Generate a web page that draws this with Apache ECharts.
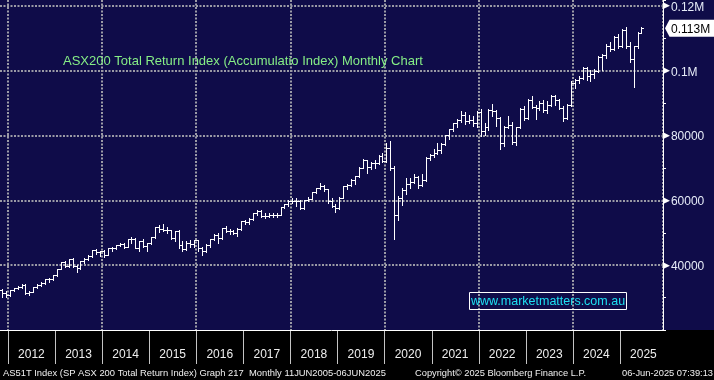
<!DOCTYPE html>
<html>
<head>
<meta charset="utf-8">
<script src="https://cdn.jsdelivr.net/npm/echarts/dist/echarts.min.js"></script>
<style>
html,body{margin:0;padding:0;background:#000;}
#c{width:714px;height:380px;}
</style>
</head>
<body>
<div id="c"></div>
<script>
// ---- axis / labels ----
const startYear = 2011, startMonth = 11, monthCount = 169; // Nov 2011 .. Nov 2025 on the axis
const yMin = 20000, yMax = 121850;
const yTickValues = [40000, 60000, 80000, 100000, 120000];
const yTickLabels = ['40000', '60000', '80000', '0.1M', '0.12M'];
const titleText = 'ASX200 Total Return Index (Accumulatio Index) Monthly Chart';
const watermarkText = 'www.marketmatters.com.au';
const footerLeft = 'AS51T Index (SP ASX 200 Total Return Index) Graph 217  Monthly 11JUN2005-06JUN2025';
const footerMid = 'Copyright\u00A9 2025 Bloomberg Finance L.P.';
const footerRight = '06-Jun-2025 07:39:13';

// ---- monthly OHLC, Nov 2011 .. Jun 2025 ----
const opens = [
 32300, 31450,
 30750, 32200, 32850, 33250, 33850, 31500, 31800, 33300, 33750, 34450, 35600, 35650,
 36900, 38900, 40850, 39900, 41850, 39850, 39000, 41150, 42000, 42850, 44700, 44000,
 44400, 43250, 45200, 45250, 46200, 46400, 45750, 47950, 48050, 45350, 47500, 45850,
 46850, 48550, 51700, 51300, 50850, 50900, 48250, 50550, 46350, 44850, 46950, 46450,
 47750, 45300, 44350, 46350, 48100, 49450, 48300, 51500, 50550, 50700, 49800, 51150,
 53500, 53250, 54300, 56000, 56750, 55050, 55250, 55450, 55600, 55500, 57900, 58750,
 59900, 59900, 59950, 57550, 60000, 60550, 62650, 63750, 64400, 63450, 59800, 58350,
 57800, 60850, 64300, 64650, 66400, 67400, 70050, 72350, 70400, 71550, 71500, 73800,
 72300, 76200, 70150, 55500, 60600, 63300, 65100, 65700, 67350, 64850, 66350, 73150,
 74150, 74650, 75650, 77300, 80200, 81900, 83800, 84800, 86500, 84600, 84700, 84000,
 87300, 81500, 82700, 87800, 87600, 85300, 77600, 82800, 83300, 77900, 82700, 88200,
 85300, 91100, 88700, 88400, 90000, 87800, 89300, 92100, 91100, 88500, 85300, 89500,
 96100, 97300, 97900, 100800, 98400, 99000, 100000, 104300, 104800, 107800, 106800, 110500,
 107800, 112500, 107500, 103700, 107600, 111800
];
const highs = [
 32800, 31900,
 32300, 33100, 33600, 34100, 34100, 32100, 33400, 34100, 34800, 35700, 35900, 37000,
 38950, 41000, 41300, 41900, 42300, 40000, 41200, 42300, 43200, 44800, 45000, 44500,
 44600, 45400, 45600, 46300, 46900, 46700, 48000, 48600, 48300, 47600, 48000, 47000,
 48600, 51800, 52500, 52700, 51700, 51000, 50600, 50900, 47500, 47600, 47800, 47900,
 47800, 45500, 46600, 48200, 49700, 49900, 51600, 52100, 51300, 51000, 51400, 53700,
 54000, 54500, 56100, 56900, 57000, 56000, 56100, 56000, 56000, 58000, 59000, 60000,
 60800, 60600, 60200, 60100, 61200, 62700, 63900, 65300, 64600, 63600, 60800, 59000,
 61000, 64400, 65200, 66700, 67600, 70200, 72800, 72500, 72000, 72600, 74000, 74500,
 77800, 78300, 70500, 61300, 63800, 66800, 66800, 68000, 67600, 68100, 73400, 74400,
 76000, 77600, 77600, 80300, 82000, 84000, 85000, 87600, 87300, 86400, 86100, 87600,
 88300, 84000, 88100, 89600, 87900, 85800, 82900, 86200, 84300, 82800, 88400, 89000,
 91300, 92200, 89400, 90600, 91000, 90600, 92400, 92600, 91300, 89100, 89700, 96800,
 97500, 98500, 101100, 101300, 100100, 100400, 104600, 105300, 108300, 109000, 110800, 111400,
 113000, 113400, 109000, 107700, 112000, 113600
];
const lows = [
 30300, 30300,
 30600, 32000, 32500, 32900, 31200, 30800, 31700, 33000, 33500, 34300, 34900, 35500,
 36800, 38700, 39400, 39300, 39500, 37800, 38700, 40600, 41600, 42600, 43400, 42900,
 42500, 43000, 44400, 45000, 45800, 45300, 45600, 47000, 45200, 44400, 45500, 44500,
 46400, 48400, 50300, 50600, 49800, 48000, 47600, 45300, 44400, 44700, 45700, 45600,
 44300, 43000, 44000, 45700, 47700, 46900, 48200, 50300, 49600, 49500, 48900, 50900,
 52700, 52800, 54000, 55600, 54800, 54500, 54800, 54900, 55000, 55400, 57500, 58300,
 59300, 58200, 57400, 57400, 59800, 60400, 62300, 63500, 62800, 59100, 57900, 56500,
 57200, 60700, 63500, 64500, 65200, 67100, 69900, 68500, 69800, 69900, 71300, 71900,
 72000, 69500, 48200, 53800, 58500, 62000, 63800, 65300, 63800, 64400, 66000, 72400,
 73400, 74300, 74500, 77100, 78800, 81500, 82800, 84300, 83700, 83900, 82900, 82800,
 80000, 80100, 81800, 86100, 82900, 76000, 76700, 82300, 77500, 77100, 82200, 84800,
 85100, 88400, 85200, 88000, 87200, 86900, 89000, 89500, 88100, 84500, 85000, 89200,
 94700, 96300, 97400, 97200, 96900, 97900, 99600, 100300, 103800, 106000, 106300, 106900,
 107300, 107000, 102700, 95100, 107100, 111700
];
const closes = [
 31450, 30750,
 32200, 32850, 33250, 33850, 31500, 31800, 33300, 33750, 34450, 35600, 35650, 36900,
 38900, 40850, 39900, 41850, 39850, 39000, 41150, 42000, 42850, 44700, 44000, 44400,
 43250, 45200, 45250, 46200, 46400, 45750, 47950, 48050, 45350, 47500, 45850, 46850,
 48550, 51700, 51300, 50850, 50900, 48250, 50550, 46350, 44850, 46950, 46450, 47750,
 45300, 44350, 46350, 48100, 49450, 48300, 51500, 50550, 50700, 49800, 51150, 53500,
 53250, 54300, 56000, 56750, 55050, 55250, 55450, 55600, 55500, 57900, 58750, 59900,
 59900, 59950, 57550, 60000, 60550, 62650, 63750, 64400, 63450, 59800, 58350, 57800,
 60850, 64300, 64650, 66400, 67400, 70050, 72350, 70400, 71550, 71500, 73800, 72300,
 76200, 70150, 55500, 60600, 63300, 65100, 65700, 67350, 64850, 66350, 73150, 74150,
 74650, 75650, 77300, 80200, 81900, 83800, 84800, 86500, 84600, 84700, 84000, 87300,
 81500, 82700, 87800, 87600, 85300, 77600, 82800, 83300, 77900, 82700, 88200, 85300,
 91100, 88700, 88400, 90000, 87800, 89300, 92100, 91100, 88500, 85300, 89500, 96100,
 97300, 97900, 100800, 98400, 99000, 100000, 104300, 104800, 107800, 106800, 110500, 107800,
 112500, 107500, 103700, 107600, 111800, 113100
];

// ---- build categories ----
const months = [];
for (let k = 0; k < monthCount; k++) {
  const m0 = startMonth - 1 + k;
  const y = startYear + Math.floor(m0 / 12);
  const m = (m0 % 12) + 1;
  months.push(y + '-' + (m < 10 ? '0' : '') + m);
}
const ohlc = closes.map((c, i) => [i, opens[i], c, lows[i], highs[i]]);

const NAVY = '#0f0c49';
const GRIDC = '#9b9ba6';
const FONT = '"Liberation Sans", Arial, sans-serif';

const chart = echarts.init(document.getElementById('c'), null, {renderer: 'canvas'});

const option = {
  animation: false,
  backgroundColor: '#000',
  grid: {left: 0, right: 51, top: 0, bottom: 50, containLabel: false},
  xAxis: {
    type: 'category',
    data: months,
    boundaryGap: true,
    axisLine: {show: true, onZero: false, lineStyle: {color: '#ffffff', width: 1}},
    axisTick: {show: false},
    axisLabel: {
      interval: (i, v) => v.slice(5) === '06',
      formatter: v => v.slice(0, 4),
      color: '#eeeeee',
      fontFamily: FONT,
      fontSize: 12,
      margin: 19,
      padding: [0, 0, 0, 4]
    },
    splitLine: {
      show: true,
      interval: (i, v) => v.slice(5) === '01' && parseInt(v.slice(0, 4), 10) % 2 === 0,
      lineStyle: {color: GRIDC, width: 2, type: [2, 1.5]}
    }
  },
  yAxis: [{
    type: 'value',
    position: 'right',
    min: yMin,
    max: yMax,
    interval: 20000,
    axisLine: {show: true, lineStyle: {color: '#ffffff', width: 1}},
    axisTick: {show: false},
    axisLabel: {
      margin: 0,
      formatter: v => {
        const k = yTickValues.indexOf(v);
        return k < 0 ? '' : '{a|\u25B6}{b|' + yTickLabels[k] + '}';
      },
      rich: {
        a: {fontSize: 9, color: '#ffffff', fontFamily: '"DejaVu Sans"', padding: [0, 1, 0, 0]},
        b: {fontSize: 12, color: '#e6ecf8', fontFamily: FONT, padding: [3, 0, 0, 0]}
      }
    },
    splitLine: {
      show: true,
      lineStyle: {
        color: ['rgba(0,0,0,0)', GRIDC, GRIDC, GRIDC, GRIDC, GRIDC, 'rgba(0,0,0,0)'],
        width: 2,
        type: [2, 1.5]
      }
    }
  }, {
    // small ticks every 10000 on the right axis
    type: 'value',
    position: 'right',
    min: yMin,
    max: yMax,
    interval: 10000,
    axisLine: {show: false},
    axisTick: {show: true, length: 3, lineStyle: {color: '#ffffff', width: 1}},
    axisLabel: {show: false},
    splitLine: {show: false}
  }],
  series: [{
    type: 'custom',
    clip: true,
    data: ohlc,
    encode: {x: 0, y: [1, 2, 3, 4]},
    renderItem: function (params, api) {
      const xi = api.value(0);
      const o = api.coord([xi, api.value(1)]);
      const c = api.coord([xi, api.value(2)]);
      const l = api.coord([xi, api.value(3)]);
      const h = api.coord([xi, api.value(4)]);
      const px = Math.round(o[0]) + 0.5;
      const oy = Math.round(o[1]) + 0.5;
      const cy = Math.round(c[1]) + 0.5;
      const st = {stroke: '#ffffff', lineWidth: 1};
      return {
        type: 'group',
        children: [
          {type: 'line', shape: {x1: px, y1: Math.round(h[1]), x2: px, y2: Math.round(l[1]) + 1}, style: st},
          {type: 'line', shape: {x1: px - 2.5, y1: oy, x2: px, y2: oy}, style: st},
          {type: 'line', shape: {x1: px, y1: cy, x2: px + 2.5, y2: cy}, style: st}
        ]
      };
    }
  }]
};
chart.setOption(option);

// ---- decorations placed through the chart's own scales ----
const x0 = chart.convertToPixel({xAxisIndex: 0}, months[0]);
const x1 = chart.convertToPixel({xAxisIndex: 0}, months[1]);
const bw = x1 - x0;
const elements = [
  {type: 'rect', z: -100, silent: true, shape: {x: 0, y: 0, width: 714, height: 330}, style: {fill: NAVY}}
];
months.forEach(m => {
  if (m.slice(5) === '01') {
    const bx = Math.round(chart.convertToPixel({xAxisIndex: 0}, m) - bw / 2) + 0.5;
    elements.push({type: 'line', silent: true, z: 5,
      shape: {x1: bx, y1: 331, x2: bx, y2: 364}, style: {stroke: '#c4c4c4', lineWidth: 1}});
  }
});
const lastClose = closes[closes.length - 1];
const ly = chart.convertToPixel({yAxisIndex: 0}, lastClose);
elements.push({type: 'polygon', z: 10, silent: true,
  shape: {points: [[665, ly], [669.5, ly - 8.5], [714, ly - 8.5], [714, ly + 8.5], [669.5, ly + 8.5]]},
  style: {fill: '#ffffff'}});
elements.push({type: 'text', z: 11, silent: true, x: 671, y: ly + 1,
  style: {text: (lastClose / 1e6).toFixed(3) + 'M', fill: '#000000', font: '12px ' + FONT, verticalAlign: 'middle', align: 'left'}});
elements.push({type: 'text', z: 10, silent: true, x: 63, y: 61,
  style: {text: titleText, fill: '#86ee86', font: '13px ' + FONT, verticalAlign: 'middle', align: 'left'}});
elements.push({type: 'rect', z: 10, silent: true, shape: {x: 469.5, y: 292.5, width: 157, height: 17},
  style: {fill: 'none', stroke: '#ffffff', lineWidth: 1}});
elements.push({type: 'text', z: 11, silent: true, x: 548, y: 301.5,
  style: {text: watermarkText, fill: '#1ee0f2', font: '12.5px ' + FONT, verticalAlign: 'middle', align: 'center'}});
elements.push({type: 'text', z: 10, silent: true, x: 3, y: 373,
  style: {text: footerLeft, fill: '#f0f0f0', font: '9.4px ' + FONT, verticalAlign: 'middle', align: 'left'}});
elements.push({type: 'text', z: 10, silent: true, x: 415, y: 373,
  style: {text: footerMid, fill: '#f0f0f0', font: '9.3px ' + FONT, verticalAlign: 'middle', align: 'left'}});
elements.push({type: 'text', z: 10, silent: true, x: 713, y: 373,
  style: {text: footerRight, fill: '#f0f0f0', font: '9.3px ' + FONT, verticalAlign: 'middle', align: 'right'}});

chart.setOption({graphic: {elements: elements}});
</script>
</body>
</html>
